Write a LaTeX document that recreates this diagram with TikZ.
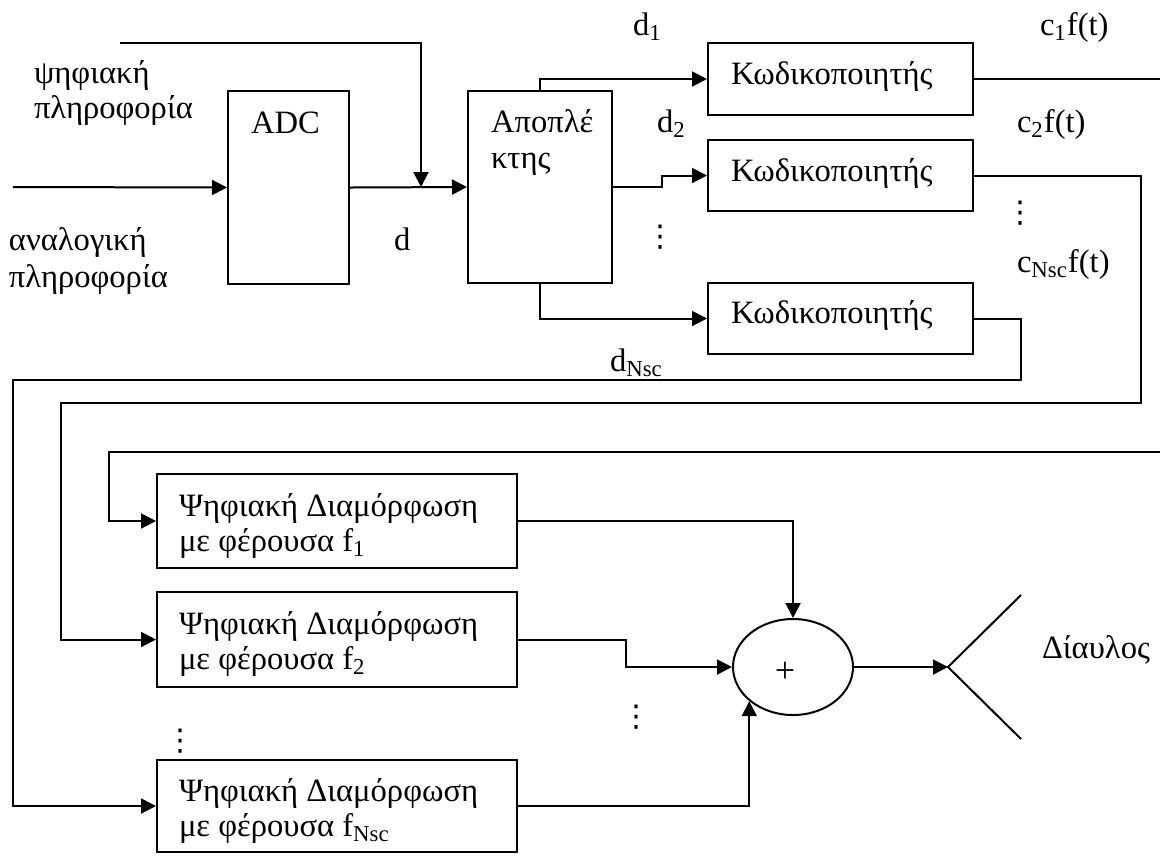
\documentclass[tikz,border=0pt]{standalone}
\usepackage{fontspec}
\setmainfont{Liberation Serif}
\newfontfamily\symfont{DejaVu Sans}
\usetikzlibrary{arrows.meta,fit,shapes.geometric}
\begin{document}
\begin{tikzpicture}[x=0.5pt,y=-0.5pt, line width=1pt,
  >={Triangle[length=7.5pt,width=7.5pt]},
  blk/.style={draw, inner sep=0pt, fit={#1}},
  txt/.style={anchor=base west, inner sep=0pt, font=\fontsize{16.3}{19}\selectfont},
  dotsnode/.style={anchor=center, inner sep=0pt, font=\symfont\fontsize{15}{18}\selectfont},
]
\useasboundingbox (0,0) rectangle (1160,859);

% ---- blocks ----
\node[blk={(228,91) (349,284)}] (adc) {};
\node[blk={(468,91) (612,283)}] (spl) {};
\node[blk={(708,43) (973,115)}] (k1) {};
\node[blk={(708,140) (973,211)}] (k2) {};
\node[blk={(708,283) (973,354)}] (k3) {};
\node[blk={(157,474) (517,568)}] (m1) {};
\node[blk={(157,592) (517,687)}] (m2) {};
\node[blk={(157,760) (517,852)}] (m3) {};
\node[draw, ellipse, inner sep=0pt, minimum width=60pt, minimum height=48pt] (sum) at (793,667) {};
\node[inner sep=0pt, font=\fontsize{18}{20}\selectfont] (plus) at (785,672) {+};

% ---- free ends ----
\coordinate (ain) at (13,187);
\coordinate (din) at (120,43);
\coordinate (join) at (421,187);
\coordinate (k1end) at (1160,79);
\coordinate (r2) at (1141,403);
\coordinate (l2) at (61,403);
\coordinate (r3) at (1021,380);
\coordinate (l3) at (13,380);
\coordinate (r1) at (1160,452);
\coordinate (l1) at (109,452);
\coordinate (ant) at (948,667);
\coordinate (antU) at (1021,595);
\coordinate (antD) at (1021,739);

% ---- connectors ----
\draw[->] (ain) -- (adc.west);
\draw[->] (adc.east) -- (spl.west);
\draw[->] (din) -| (join);
\draw[->] (spl.north) |- (k1.west);
\draw[->] (spl.east) -- ++(49,0) |- (k2.west);
\draw[->] (spl.south) |- (k3.west);
\draw (k1.east) -- (k1end);
\draw[->] (k2.east) -| (r2) -- (l2) |- (m2.west);
\draw[->] (k3.east) -| (r3) -- (l3) |- (m3.west);
\draw[->] (r1) -- (l1) |- (m1.west);
\draw[->] (m1.east) -| (sum.north);
\draw[->] (m2.east) -- ++(108,0) |- (sum.west);
\draw[->] (m3.east) -| (sum.218);
\draw[->] (sum.east) -- (ant);
\draw (antU) -- (ant) -- (antD);

% ---- labels ----
\node[txt] (t1) at (33,83) {ψηφιακή};
\node[txt] (t2) at (33,118) {πληροφορία};
\node[txt] (t3) at (8,250) {αναλογική};
\node[txt] (t4) at (8,287) {πληροφορία};
\node[txt] (t5) at (250,133) {ADC};
\node[txt] (t6) at (393,250) {d};
\node[txt] (t7) at (490,132) {Αποπλέ};
\node[txt] (t8) at (490,168) {κτης};
\node[txt] (t9) at (632,35) {d\textsubscript{1}};
\node[txt] (t10) at (656,132) {d\textsubscript{2}};
\node[txt] (t11) at (609,371) {d\textsubscript{Nsc}};
\node[txt] (t12) at (1039,35) {c\textsubscript{1}f(t)};
\node[txt] (t13) at (1016,132) {c\textsubscript{2}f(t)};
\node[txt] (t14) at (1016,272) {c\textsubscript{Nsc}f(t)};
\node[txt] (t15) at (730,84) {Κωδικοποιητής};
\node[txt] (t16) at (730,181) {Κωδικοποιητής};
\node[txt] (t17) at (730,323) {Κωδικοποιητής};
\node[txt] (t18) at (178,516) {Ψηφιακή Διαμόρφωση};
\node[txt] (t19) at (178,551) {με φέρουσα f\textsubscript{1}};
\node[txt] (t20) at (178,634) {Ψηφιακή Διαμόρφωση};
\node[txt] (t21) at (178,669) {με φέρουσα f\textsubscript{2}};
\node[txt] (t22) at (178,801) {Ψηφιακή Διαμόρφωση};
\node[txt] (t23) at (178,836) {με φέρουσα f\textsubscript{Nsc}};
\node[txt] (t24) at (1041,658) {Δίαυλος};

% ---- ellipsis marks ----
\node[dotsnode] (v1) at (660,237) {⋮};
\node[dotsnode] (v2) at (1020,213) {⋮};
\node[dotsnode] (v3) at (180,741) {⋮};
\node[dotsnode] (v4) at (636,717) {⋮};
\end{tikzpicture}
\end{document}
